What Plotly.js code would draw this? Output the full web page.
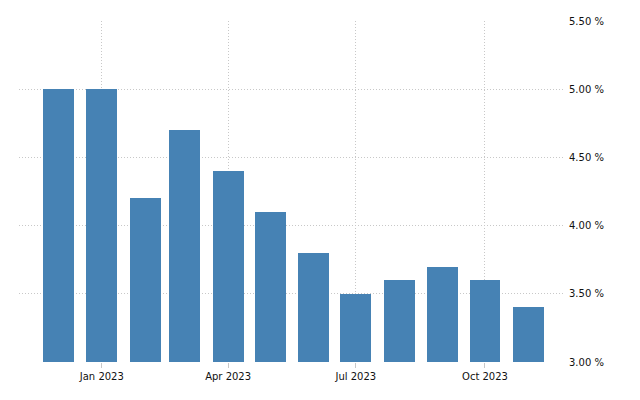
<!DOCTYPE html>
<html>
<head>
<meta charset="utf-8">
<script src="https://cdn.plot.ly/plotly-3.0.1.min.js"></script>
<style>html,body{margin:0;padding:0;background:#fff;}#chart{width:640px;height:400px;}</style>
</head>
<body>
<div id="chart"></div>
<script>
const months = ["2022-12-01","2023-01-01","2023-02-01","2023-03-01","2023-04-01","2023-05-01","2023-06-01","2023-07-01","2023-08-01","2023-09-01","2023-10-01","2023-11-01"];
const values = [5.0, 5.0, 4.2, 4.7, 4.4, 4.1, 3.8, 3.5, 3.6, 3.7, 3.6, 3.4];
const xTickVals = ["2023-01-01","2023-04-01","2023-07-01","2023-10-01"];
const xTickText = ["Jan 2023","Apr 2023","Jul 2023","Oct 2023"];
const yTickVals = [3.0, 3.5, 4.0, 4.5, 5.0, 5.5];
const yTickText = ["3.00 %","3.50 %","4.00 %","4.50 %","5.00 %","5.50 %"];

const DAY = 86400000;
const trace = {
  type: 'bar',
  x: months,
  y: values,
  width: months.map(() => 22 * DAY),
  marker: {color: '#4682B4', line: {width: 0}},
  hoverinfo: 'x+y'
};
const font = {family: 'DejaVu Sans, sans-serif', size: 10, color: '#111'};
const layout = {
  width: 640, height: 400,
  margin: {l: 19, r: 75, t: 21, b: 38},
  paper_bgcolor: '#fff', plot_bgcolor: '#fff',
  showlegend: false,
  font: font,
  xaxis: {
    type: 'date',
    range: ['2022-11-03', '2023-11-27'],
    tickmode: 'array',
    tickvals: xTickVals, ticktext: xTickText,
    showgrid: true, gridcolor: '#c8c8c8', griddash: '1px,2px', gridwidth: 1,
    ticks: 'outside', ticklen: 5, tickcolor: '#c8c8c8', tickwidth: 1,
    showline: false, zeroline: false,
    tickfont: font
  },
  yaxis: {
    side: 'right',
    range: [3.0, 5.5],
    tickmode: 'array',
    tickvals: yTickVals, ticktext: yTickText,
    showgrid: true, gridcolor: '#c8c8c8', griddash: '1px,2px', gridwidth: 1,
    zeroline: false, showline: false, ticks: '',
    ticklabelstandoff: 3,
    tickfont: font
  },
  bargap: 0
};
Plotly.newPlot('chart', [trace], layout, {displayModeBar: false, staticPlot: true});
</script>
</body>
</html>
